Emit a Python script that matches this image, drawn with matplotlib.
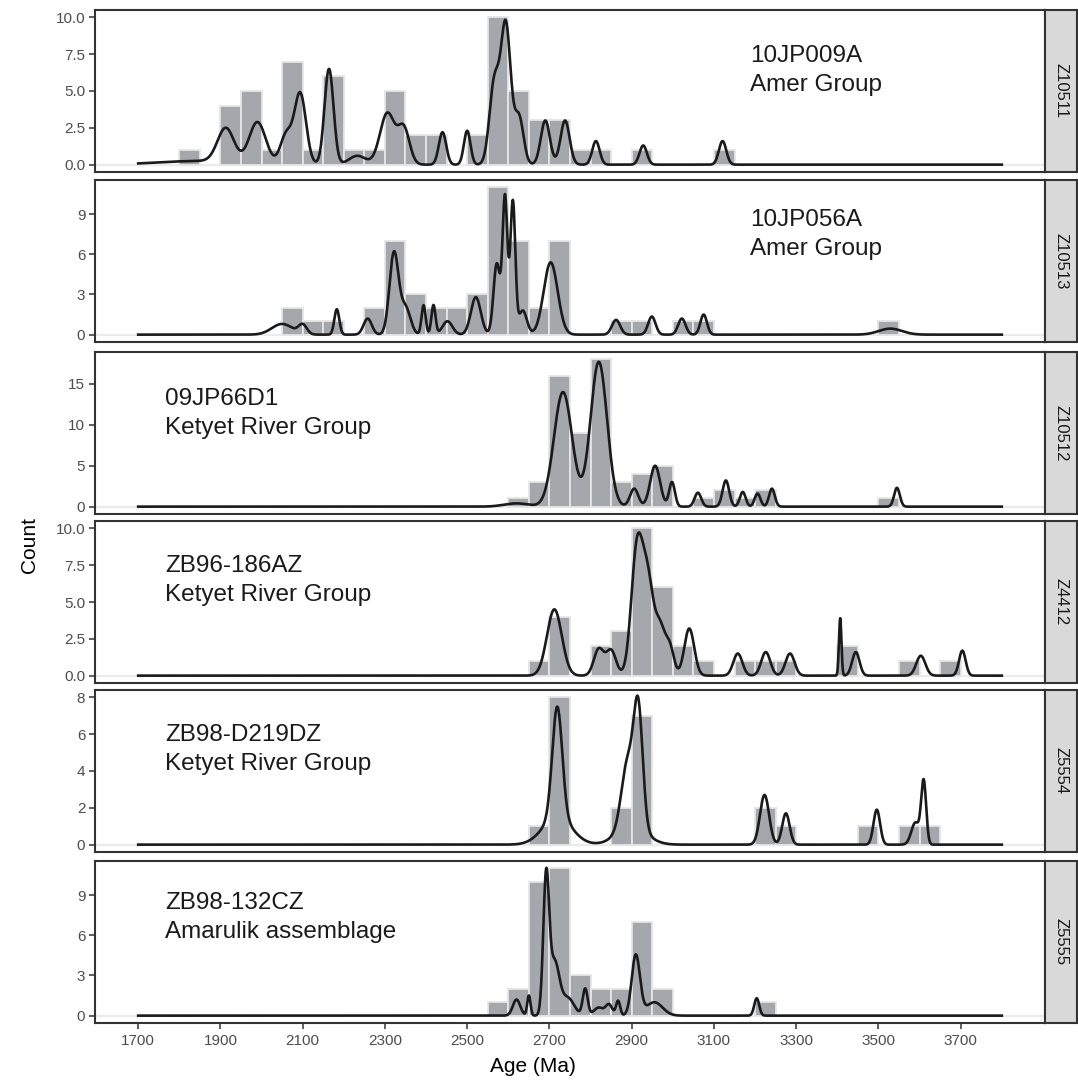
import numpy as np
import matplotlib
matplotlib.use('Agg')
import matplotlib.pyplot as plt

plt.rcParams['font.family'] = ['Liberation Sans', 'DejaVu Sans']

# ---------------- data ----------------
sample_ids = ['Z10511', 'Z10513', 'Z10512', 'Z4412', 'Z5554', 'Z5555']
sample_names = ['10JP009A\nAmer Group', '10JP056A\nAmer Group',
                '09JP66D1\nKetyet River Group', 'ZB96-186AZ\nKetyet River Group',
                'ZB98-D219DZ\nKetyet River Group', 'ZB98-132CZ\nAmarulik assemblage']

bin_width = 50  # Ma

# histogram bins (left edges) and counts
z10511_bins = [1800, 1900, 1950, 2000, 2050, 2100, 2150, 2200, 2250, 2300, 2350, 2400,
               2500, 2550, 2600, 2650, 2700, 2750, 2800, 2900, 3100]
z10511_counts = [1, 4, 5, 1, 7, 1, 6, 1, 1, 5, 2, 2, 2, 10, 5, 3, 3, 1, 1, 1, 1]

z10513_bins = [2050, 2100, 2150, 2250, 2300, 2350, 2400, 2450, 2500, 2550, 2600, 2650,
               2700, 2850, 2900, 3000, 3050, 3500]
z10513_counts = [2, 1, 1, 2, 7, 3, 2, 2, 3, 11, 7, 2, 7, 1, 1, 1, 1, 1]

z10512_bins = [2600, 2650, 2700, 2750, 2800, 2850, 2900, 2950, 3050, 3100, 3150, 3200, 3500]
z10512_counts = [1, 3, 16, 9, 18, 3, 4, 5, 1, 2, 1, 2, 1]

z4412_bins = [2650, 2700, 2800, 2850, 2900, 2950, 3000, 3050, 3150, 3200, 3250, 3400, 3550, 3650]
z4412_counts = [1, 4, 2, 3, 10, 6, 2, 1, 1, 1, 1, 2, 1, 1]

z5554_bins = [2650, 2700, 2850, 2900, 3200, 3250, 3450, 3550, 3600]
z5554_counts = [1, 8, 2, 7, 2, 1, 1, 1, 1]

z5555_bins = [2550, 2600, 2650, 2700, 2750, 2800, 2850, 2900, 2950, 3200]
z5555_counts = [1, 2, 10, 11, 3, 2, 2, 7, 2, 1]

# probability-density curve components: (age, amplitude, spread)
z10511_peak_age = [1850, 1913, 1990, 2060, 2094, 2164, 2233, 2306, 2346, 2440, 2500,
                   2566, 2594, 2626, 2690, 2738, 2813, 2928, 3121]
z10511_peak_amp = [0.25, 2.3, 2.8, 2.0, 4.8, 6.5, 0.6, 3.5, 2.4, 2.2, 2.3,
                   5.5, 9.4, 3.2, 3.0, 3.0, 1.6, 1.3, 1.6]
z10511_peak_sd = [100, 20, 20, 14, 14, 11, 20, 18, 14, 9, 8,
                  12, 12, 11, 11, 11, 9, 9, 9]

z10513_peak_age = [2050, 2100, 2183, 2258, 2322, 2350, 2394, 2418, 2452, 2521, 2572,
                   2592, 2611, 2635, 2703, 2862, 2949, 3022, 3075, 3529]
z10513_peak_amp = [0.8, 0.7, 1.9, 1.2, 6.1, 2.0, 2.2, 2.2, 1.0, 2.8, 5.3,
                   10.2, 9.9, 1.8, 5.4, 1.1, 1.35, 1.2, 1.5, 0.45]
z10513_peak_sd = [25, 10, 6, 10, 11, 12, 5, 5, 12, 12, 8,
                  6, 6, 10, 17, 10, 9, 9, 8, 28]

z10512_peak_age = [2620, 2733, 2820, 2906, 2957, 2998, 3061, 3129, 3170, 3206, 3241, 3545]
z10512_peak_amp = [0.4, 14.0, 17.7, 2.2, 5.0, 3.0, 1.7, 3.2, 1.8, 1.6, 2.2, 2.3]
z10512_peak_sd = [30, 22, 20, 10, 12, 7, 8, 8, 7, 7, 7, 7]

z4412_peak_age = [2712, 2820, 2850, 2913, 2940, 2970, 2993, 3040, 3158, 3226, 3285,
                  3407, 3445, 3603, 3704]
z4412_peak_amp = [4.5, 1.8, 1.7, 8.5, 6.0, 3.0, 1.8, 3.2, 1.5, 1.6, 1.5,
                  3.9, 1.6, 1.35, 1.7]
z4412_peak_sd = [18, 12, 12, 14, 14, 12, 10, 12, 11, 11, 11, 3, 9, 11, 8]

z5554_peak_age = [2719, 2719, 2890, 2916, 2900, 3223, 3275, 3496, 3590, 3610]
z5554_peak_amp = [6.0, 1.5, 3.5, 6.3, 1.0, 2.7, 1.7, 1.9, 1.2, 3.4]
z5554_peak_sd = [12, 35, 15, 11, 35, 11, 9, 8, 10, 6]

z5555_peak_age = [2620, 2650, 2692, 2712, 2745, 2787, 2820, 2845, 2867, 2910, 2955, 3204]
z5555_peak_amp = [1.2, 1.5, 10.0, 4.0, 1.3, 2.0, 0.6, 0.8, 1.1, 4.5, 1.0, 1.3]
z5555_peak_sd = [9, 4, 7, 12, 15, 6, 12, 8, 5, 10, 20, 6]

y_ticks = [[0, 2.5, 5, 7.5, 10], [0, 3, 6, 9], [0, 5, 10, 15],
           [0, 2.5, 5, 7.5, 10], [0, 2, 4, 6, 8], [0, 3, 6, 9]]
y_ticklabels = [['0.0', '2.5', '5.0', '7.5', '10.0'], ['0', '3', '6', '9'], ['0', '5', '10', '15'],
                ['0.0', '2.5', '5.0', '7.5', '10.0'], ['0', '2', '4', '6', '8'], ['0', '3', '6', '9']]
y_max = [10, 11, 18, 10, 8, 11]
x_ticks = [1700, 1900, 2100, 2300, 2500, 2700, 2900, 3100, 3300, 3500, 3700]
age_min, age_max = 1700, 3800

hist_bins = [z10511_bins, z10513_bins, z10512_bins, z4412_bins, z5554_bins, z5555_bins]
hist_counts = [z10511_counts, z10513_counts, z10512_counts, z4412_counts, z5554_counts, z5555_counts]
peaks = [(z10511_peak_age, z10511_peak_amp, z10511_peak_sd),
         (z10513_peak_age, z10513_peak_amp, z10513_peak_sd),
         (z10512_peak_age, z10512_peak_amp, z10512_peak_sd),
         (z4412_peak_age, z4412_peak_amp, z4412_peak_sd),
         (z5554_peak_age, z5554_peak_amp, z5554_peak_sd),
         (z5555_peak_age, z5555_peak_amp, z5555_peak_sd)]

# ---------------- layout (pixels) ----------------
W, H = 1078, 1085
fig = plt.figure(figsize=(W / 100, H / 100), dpi=100)
panel_left, panel_right, strip_right = 95, 1045, 1077
panel_tops = [10, 180, 352, 521, 690, 861]
panel_h = 162
text_left_px = [750, 750, 165, 165, 165, 165]
text_base1_px = [62, 226, 405, 572, 741, 909]

line_color = '#333333'
tick_label_color = '#4d4d4d'
bar_fill = '#a4a7ab'
bar_edge = '#e6e6e6'

ages = np.linspace(age_min, age_max, 2101)
xpad = 0.05 * (age_max - age_min)

for i in range(6):
    top = panel_tops[i]
    ax = fig.add_axes([panel_left / W, 1 - (top + panel_h) / H,
                       (panel_right - panel_left) / W, panel_h / H])
    ax.axhline(0, color='#ebebeb', lw=1.6, zorder=0)
    ax.bar(hist_bins[i], hist_counts[i], width=bin_width, align='edge',
           color=bar_fill, edgecolor=bar_edge, linewidth=1.3, zorder=1)
    pa, pamp, psd = peaks[i]
    curve = np.zeros_like(ages)
    for a, h, s in zip(pa, pamp, psd):
        curve += h * np.exp(-0.5 * ((ages - a) / s) ** 2)
    ax.plot(ages, curve, color='#1a1a1a', lw=1.9, zorder=3)

    ymax = y_max[i]
    ax.set_ylim(-0.05 * ymax, 1.05 * ymax)
    ax.set_xlim(age_min - xpad, age_max + xpad)
    ax.set_yticks(y_ticks[i])
    ax.set_yticklabels(y_ticklabels[i])
    ax.set_xticks(x_ticks)
    if i < 5:
        ax.tick_params(axis='x', labelbottom=False, length=0)
    else:
        ax.tick_params(axis='x', length=4, width=1.1, color=line_color,
                       labelsize=11, labelcolor=tick_label_color, pad=4)
    ax.tick_params(axis='y', length=4, width=1.1, color=line_color,
                   labelsize=11, labelcolor=tick_label_color, pad=3)
    for sp in ax.spines.values():
        sp.set_color(line_color)
        sp.set_linewidth(1.5)

    # sample label
    l1, l2 = sample_names[i].split('\n')
    fx = text_left_px[i] / W
    fy1 = 1 - text_base1_px[i] / H
    fy2 = 1 - (text_base1_px[i] + 29) / H
    fig.text(fx, fy1, l1, fontsize=17.5, color='#1a1a1a', va='baseline', ha='left')
    fig.text(fx, fy2, l2, fontsize=17.5, color='#1a1a1a', va='baseline', ha='left')

    # strip
    sax = fig.add_axes([panel_right / W, 1 - (top + panel_h) / H,
                        (strip_right - panel_right) / W, panel_h / H])
    sax.set_facecolor('#d9d9d9')
    sax.set_xticks([])
    sax.set_yticks([])
    for sp in sax.spines.values():
        sp.set_color(line_color)
        sp.set_linewidth(1.5)
    sax.text(0.5, 0.5, sample_ids[i], rotation=-90, ha='center', va='center',
             fontsize=12, color='#1a1a1a', transform=sax.transAxes)

fig.text(30 / W, 1 - 545 / H, 'Count', rotation=90, ha='center', va='center',
         fontsize=15, color='black')
fig.text(533 / W, 1 - 1066 / H, 'Age (Ma)', ha='center', va='center',
         fontsize=15, color='black')

fig.savefig('out.png', dpi=100)
